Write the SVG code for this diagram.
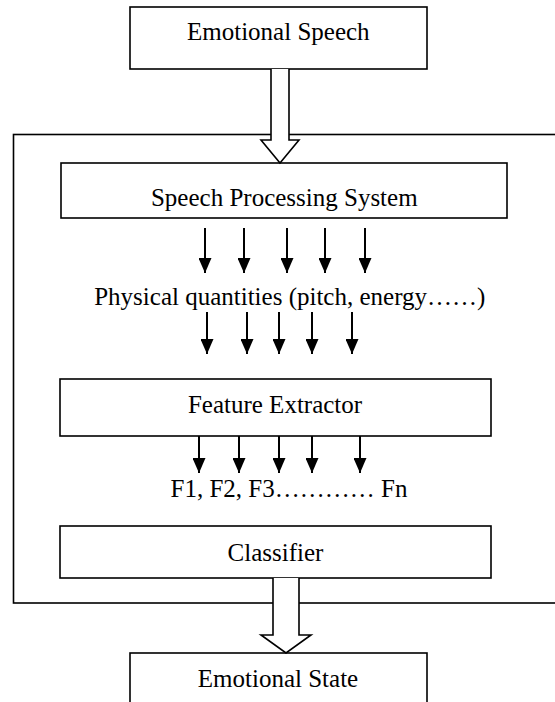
<svg xmlns="http://www.w3.org/2000/svg" width="555" height="702" viewBox="0 0 555 702">
<style>
.box{fill:#fff;stroke:#000;stroke-width:1.6}
.lbl{font-family:"Liberation Serif","Times New Roman",serif;font-size:25px;fill:#000;text-anchor:middle}
.hollow{fill:#fff;stroke:#000;stroke-width:1.6;stroke-linejoin:miter}
.thin{stroke:#000;stroke-width:2;fill:none}
</style>
<defs>
<marker id="ah" viewBox="0 0 15 13" refX="15" refY="6.5" markerWidth="15" markerHeight="13" markerUnits="userSpaceOnUse" orient="auto">
<path d="M0,0 L15,6.5 L0,13 Z" fill="#000"/>
</marker>
</defs>
<rect width="555" height="702" fill="#fff"/>
<g id="container">
<rect class="box" x="13.5" y="134.5" width="560" height="468.5" fill="none"/>
</g>
<g id="emotional-speech">
<rect class="box" x="130" y="7" width="297" height="62"/>
<text class="lbl" x="278.3" y="40">Emotional Speech</text>
</g>
<g id="speech-processing">
<rect class="box" x="61" y="163" width="446" height="55"/>
<text class="lbl" x="284.3" y="206">Speech Processing System</text>
</g>
<g id="physical-quantities">
<text class="lbl" x="289.8" y="305">Physical quantities (pitch, energy……)</text>
</g>
<g id="feature-extractor">
<rect class="box" x="60" y="379" width="431" height="57"/>
<text class="lbl" x="275" y="413">Feature Extractor</text>
</g>
<g id="features">
<text class="lbl" x="289" y="497">F1, F2, F3………… Fn</text>
</g>
<g id="classifier">
<rect class="box" x="60" y="526" width="431" height="52"/>
<text class="lbl" x="275.5" y="561">Classifier</text>
</g>
<g id="emotional-state">
<rect class="box" x="130" y="653" width="297" height="55"/>
<text class="lbl" x="278" y="687">Emotional State</text>
</g>
<g id="connectors">
<path class="hollow" d="M271,69 L271,140 L261,140 L280,163 L299,140 L289,140 L289,69"/>
<path class="hollow" d="M273,578 L273,635 L261,635 L286,653 L311,635 L299,635 L299,578"/>
<g class="thin" marker-end="url(#ah)">
<line x1="205" y1="228" x2="205" y2="273"/>
<line x1="244" y1="228" x2="244" y2="273"/>
<line x1="287" y1="228" x2="287" y2="273"/>
<line x1="325" y1="228" x2="325" y2="273"/>
<line x1="365" y1="228" x2="365" y2="273"/>
<line x1="207" y1="312" x2="207" y2="354"/>
<line x1="247" y1="312" x2="247" y2="354"/>
<line x1="279" y1="312" x2="279" y2="354"/>
<line x1="312" y1="312" x2="312" y2="354"/>
<line x1="352" y1="312" x2="352" y2="354"/>
<line x1="199" y1="436" x2="199" y2="473"/>
<line x1="239" y1="436" x2="239" y2="473"/>
<line x1="279" y1="436" x2="279" y2="473"/>
<line x1="312" y1="436" x2="312" y2="473"/>
<line x1="360" y1="436" x2="360" y2="473"/>
</g>
</g>
</svg>
